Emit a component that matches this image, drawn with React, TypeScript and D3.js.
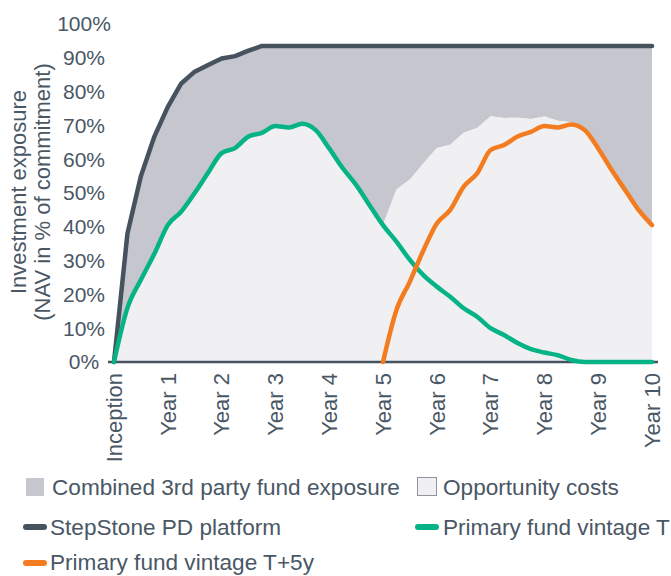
import React from "react";
import * as d3 from "d3";

// quarters from inception (0) to year 10 (40)
const quarters = d3.range(0, 41);
const yearLabels = ["Inception", "Year 1", "Year 2", "Year 3", "Year 4", "Year 5", "Year 6", "Year 7", "Year 8", "Year 9", "Year 10"];
const yTicks = [0, 10, 20, 30, 40, 50, 60, 70, 80, 90, 100];

// StepStone PD platform (NAV in % of commitment)
const platform = [0, 38, 55, 66.7, 75.5, 82.4, 85.9, 87.9, 89.8, 90.5, 92.1, 93.5, 93.5, 93.5, 93.5, 93.5, 93.5, 93.5, 93.5, 93.5,
  93.5, 93.5, 93.5, 93.5, 93.5, 93.5, 93.5, 93.5, 93.5, 93.5, 93.5, 93.5, 93.5, 93.5, 93.5, 93.5, 93.5, 93.5, 93.5, 93.5, 93.5];
// Primary fund vintage T
const vintageT = [0, 16, 24.3, 32, 40.5, 44.5, 50, 56, 61.8, 63.3, 66.7, 67.8, 69.8, 69.4, 70.5, 68.6, 63.2, 57.4, 52.4, 46.4,
  40.5, 35.6, 30.2, 25.7, 22.3, 19.3, 15.9, 13.4, 10, 8, 5.6, 3.8, 2.8, 2, 0.6, 0, 0, 0, 0, 0, 0];
// Primary fund vintage T+5y (starts at year 5)
const vintageT5 = [null, null, null, null, null, null, null, null, null, null, null, null, null, null, null, null, null, null, null, null,
  0, 15.4, 23.8, 33, 41, 45, 51.9, 55.8, 62.7, 64.2, 66.7, 68.1, 69.8, 69.4, 70.3, 68.6, 63.2, 56.8, 50.9, 45, 40.5];

const W = 671;
const H = 576;
const textColor = "#4a5765";
const dark = "#46535f";
const green = "#06b386";
const orange = "#f47c20";
const grayFill = "#c6c6ce";
const lightFill = "#f0f0f2";
const font = "'Liberation Sans', Arial, sans-serif";
const legendSize = 22.6;

const App = () => {
  const x = d3.scaleLinear().domain([0, 40]).range([114, 652]);
  const y = d3.scaleLinear().domain([0, 100]).range([362, 24]);

  const combined = quarters.map((q) => vintageT[q] + (vintageT5[q] ?? 0));

  const grayArea = d3.area<number>()
    .x((q) => x(q))
    .y0((q) => y(combined[q]))
    .y1((q) => y(platform[q]));
  const lightArea = d3.area<number>()
    .x((q) => x(q))
    .y0(y(0))
    .y1((q) => y(combined[q]));
  const lineOf = (vals: (number | null)[], curve = d3.curveLinear) =>
    d3.line<number>()
      .defined((q) => vals[q] != null)
      .curve(curve)
      .x((q) => x(q))
      .y((q) => y(vals[q] as number))(quarters);

  return (
    <svg width={W} height={H} style={{ position: "absolute", left: 0, top: 0, fontFamily: font }}>
      <path d={grayArea(quarters) || ""} fill={grayFill} />
      <path d={lightArea(quarters) || ""} fill={lightFill} />
      <line x1={108} x2={658} y1={y(0)} y2={y(0)} stroke={dark} strokeWidth={2.5} />
      <path d={lineOf(platform) || ""} fill="none" stroke={dark} strokeWidth={4.5} strokeLinejoin="round" strokeLinecap="round" />
      <path d={lineOf(vintageT, d3.curveMonotoneX) || ""} fill="none" stroke={green} strokeWidth={4.5} strokeLinejoin="round" strokeLinecap="round" />
      <path d={lineOf(vintageT5, d3.curveMonotoneX) || ""} fill="none" stroke={orange} strokeWidth={4.5} strokeLinejoin="round" strokeLinecap="round" />

      {/* y ticks */}
      {yTicks.map((t) => (
        <text key={t} x={84} y={y(t)} dy="0.35em" textAnchor="middle" fontSize={21} fill={textColor}>
          {t}%
        </text>
      ))}
      {/* y title */}
      <text transform="translate(18,192) rotate(-90)" textAnchor="middle" dy="0.35em" fontSize={22} fill={textColor}>
        Investment exposure
      </text>
      <text transform="translate(42,192) rotate(-90)" textAnchor="middle" dy="0.35em" fontSize={22} fill={textColor}>
        (NAV in % of commitment)
      </text>
      {/* x labels */}
      {yearLabels.map((lab, i) => (
        <text key={lab} transform={`translate(${x(i * 4)},373) rotate(-90)`} textAnchor="end" dy="0.35em" fontSize={22} fill={textColor}>
          {lab}
        </text>
      ))}

      {/* legend */}
      <rect x={26} y={478} width={18} height={18} fill={grayFill} />
      <text x={52} y={487} dy="0.35em" fontSize={legendSize} fill={textColor}>Combined 3rd party fund exposure</text>
      <rect x={417.5} y={477.5} width={19} height={18} fill={lightFill} stroke="#8d939b" strokeWidth={1} />
      <text x={443} y={487} dy="0.35em" fontSize={legendSize} fill={textColor}>Opportunity costs</text>

      <line x1={26} x2={44} y1={527} y2={527} stroke={dark} strokeWidth={6} strokeLinecap="round" />
      <text x={50} y={527} dy="0.35em" fontSize={legendSize} fill={textColor}>StepStone PD platform</text>
      <line x1={418} x2={436} y1={527} y2={527} stroke={green} strokeWidth={6} strokeLinecap="round" />
      <text x={443} y={527} dy="0.35em" fontSize={legendSize} fill={textColor}>Primary fund vintage T</text>

      <line x1={26} x2={44} y1={563} y2={563} stroke={orange} strokeWidth={6} strokeLinecap="round" />
      <text x={50} y={562} dy="0.35em" fontSize={legendSize} fill={textColor}>Primary fund vintage T+5y</text>
    </svg>
  );
};

export default App;
